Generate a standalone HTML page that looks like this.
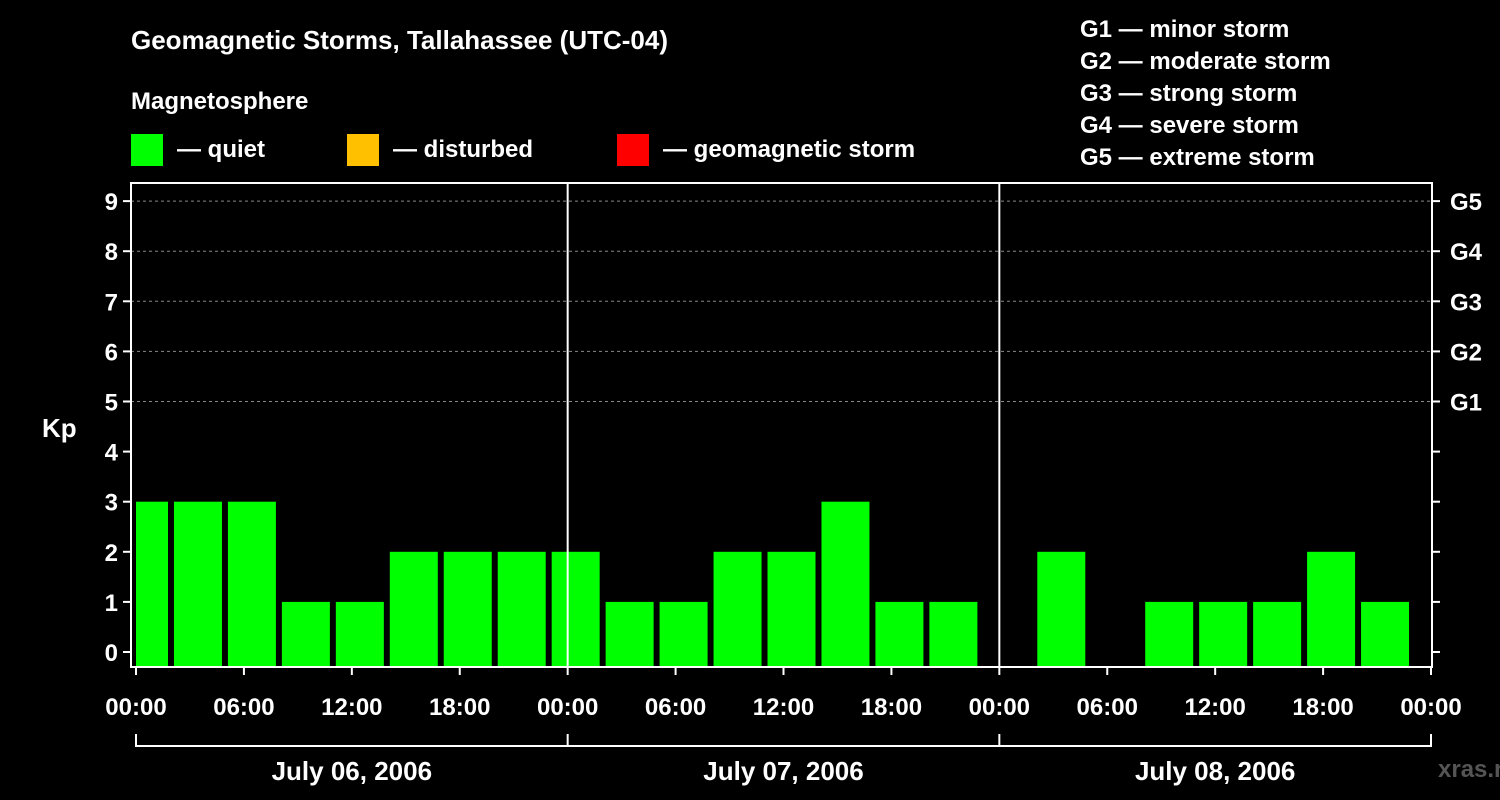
<!DOCTYPE html>
<html><head><meta charset="utf-8"><style>
body{margin:0;background:#000;}
svg{display:block;font-family:"Liberation Sans",Arial,sans-serif;font-weight:bold;}
</style></head><body>
<svg id="c" width="1500" height="800" xmlns="http://www.w3.org/2000/svg">
<rect width="1500" height="800" fill="#000"/>
<text x="131" y="49" fill="#fff" font-size="26">Geomagnetic Storms, Tallahassee (UTC-04)</text>
<text x="131" y="109" fill="#fff" font-size="24">Magnetosphere</text>
<g><rect x="131" y="134" width="32" height="32" fill="#00ff00"/><text x="177" y="157" fill="#fff" font-size="24">— quiet</text></g>
<g><rect x="347" y="134" width="32" height="32" fill="#ffc000"/><text x="393" y="157" fill="#fff" font-size="24">— disturbed</text></g>
<g><rect x="617" y="134" width="32" height="32" fill="#ff0000"/><text x="663" y="157" fill="#fff" font-size="24">— geomagnetic storm</text></g>
<g fill="#fff" font-size="24">
<text x="1080" y="37">G1 — minor storm</text><text x="1080" y="69">G2 — moderate storm</text><text x="1080" y="101">G3 — strong storm</text><text x="1080" y="133">G4 — severe storm</text><text x="1080" y="165">G5 — extreme storm</text></g>
<text x="42" y="437" fill="#fff" font-size="26">Kp</text>
<text x="1438" y="777" fill="#555" font-size="24">xras.ru</text>
<g id="plot"></g>
</svg>
<script>
const dayLabels=["July 06, 2006","July 07, 2006","July 08, 2006"];
const kpValues=[3,3,3,1,1,2,2,2, 2,1,1,2,2,3,1,1, null,2,null,1,1,1,2,1];
const yTicks=[0,1,2,3,4,5,6,7,8,9];
const gLabels=["G1","G2","G3","G4","G5"];
const gLevels=[5,6,7,8,9];
const xTickLabels=["00:00","06:00","12:00","18:00"];
const NS="http://www.w3.org/2000/svg";
const L=131,R=1432,T=183,B=667,X0=136,DAY=431.67;
const y=v=>652-v*50.1;
const x=slot=>X0+slot*DAY/8;
const g=document.getElementById('plot');
function el(t,a,p){const e=document.createElementNS(NS,t);for(const k in a)e.setAttribute(k,a[k]);(p||g).appendChild(e);return e;}
// grid
gLevels.forEach(v=>{const e=el('line',{x1:L,x2:R,y1:y(v),y2:y(v),stroke:'#888','stroke-dasharray':'3,3','stroke-width':1});

});
// bars
kpValues.forEach((v,i)=>{if(v===null)return;let l=x(i)-16,r=l+48;l=Math.max(l,L+5);
const b=el('rect',{x:l,y:y(v),width:r-l,height:B-y(v),fill:'#00ff00'});

});
// day separators
for(let d=1;d<3;d++){const e=el('line',{x1:X0+d*DAY,x2:X0+d*DAY,y1:T,y2:B,stroke:'#fff','stroke-width':2});

}
// frame
const f=el('rect',{x:L,y:T,width:R-L,height:B-T,fill:'none',stroke:'#fff','stroke-width':2});


// y ticks
yTicks.forEach(v=>{
el('line',{x1:L-8,x2:L,y1:y(v),y2:y(v),stroke:'#fff','stroke-width':2});
el('line',{x1:R,x2:R+8,y1:y(v),y2:y(v),stroke:'#fff','stroke-width':2});
const t=el('text',{x:118,y:y(v)+9,fill:'#fff','font-size':24,'text-anchor':'end'});t.textContent=v;

});
gLabels.forEach((s,i)=>{const t=el('text',{x:1450,y:y(gLevels[i])+9,fill:'#fff','font-size':24});t.textContent=s;

});
// x ticks
for(let i=0;i<=12;i++){const xx=X0+i*DAY/4;
el('line',{x1:xx,x2:xx,y1:B,y2:B+8,stroke:'#fff','stroke-width':2});
const t=el('text',{x:xx,y:715,fill:'#fff','font-size':24,'text-anchor':'middle'});t.textContent=xTickLabels[i%4];

}
// date bracket
el('line',{x1:X0,x2:X0+3*DAY,y1:746,y2:746,stroke:'#fff','stroke-width':2});
for(let d=0;d<=3;d++)el('line',{x1:X0+d*DAY,x2:X0+d*DAY,y1:734,y2:747,stroke:'#fff','stroke-width':2});
dayLabels.forEach((s,d)=>{const t=el('text',{x:X0+(d+0.5)*DAY,y:780,fill:'#fff','font-size':26,'text-anchor':'middle'});t.textContent=s;

});
</script>
</body></html>
